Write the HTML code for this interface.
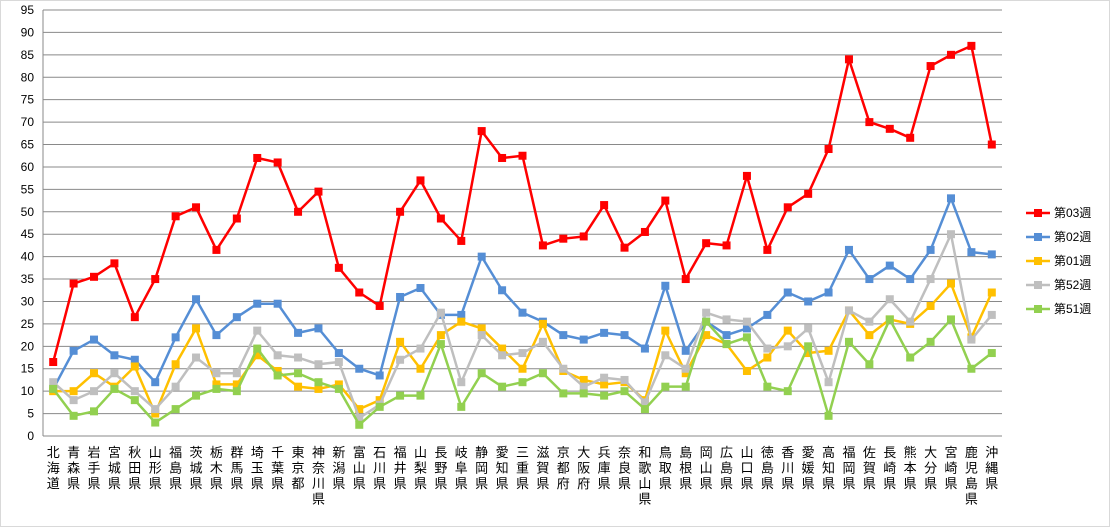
<!DOCTYPE html>
<html><head><meta charset="utf-8"><style>
body{margin:0;background:#fff;width:1110px;height:527px;overflow:hidden}
svg{display:block;font-family:"Liberation Sans","Noto Sans CJK JP",sans-serif}
</style></head><body>
<svg id="chart" width="1110" height="527">
<rect x="0.5" y="0.5" width="1109" height="526" fill="#fff" stroke="#d9d9d9"/>
<g id="grid"></g><g id="yt"></g><g id="xt"></g><g id="series"></g><g id="legend"></g>
</svg>
<script>
const categories=["北海道","青森県","岩手県","宮城県","秋田県","山形県","福島県","茨城県","栃木県","群馬県","埼玉県","千葉県","東京都","神奈川県","新潟県","富山県","石川県","福井県","山梨県","長野県","岐阜県","静岡県","愛知県","三重県","滋賀県","京都府","大阪府","兵庫県","奈良県","和歌山県","鳥取県","島根県","岡山県","広島県","山口県","徳島県","香川県","愛媛県","高知県","福岡県","佐賀県","長崎県","熊本県","大分県","宮崎県","鹿児島県","沖縄県"];
const seriesNames=["第03週","第02週","第01週","第52週","第51週"];
const w03=[16.5,34,35.5,38.5,26.5,35,49,51,41.5,48.5,62,61,50,54.5,37.5,32,29,50,57,48.5,43.5,68,62,62.5,42.5,44,44.5,51.5,42,45.5,52.5,35,43,42.5,58,41.5,51,54,64,84,70,68.5,66.5,82.5,85,87,65];
const w02=[10.5,19,21.5,18,17,12,22,30.5,22.5,26.5,29.5,29.5,23,24,18.5,15,13.5,31,33,27,27,40,32.5,27.5,25.5,22.5,21.5,23,22.5,19.5,33.5,19,25.5,22.5,24,27,32,30,32,41.5,35,38,35,41.5,53,41,40.5];
const w01=[10,10,14,11,15.5,5,16,24,11.5,11.5,18,14.5,11,10.5,11.5,6,8,21,15,22.5,25.5,24,19.5,15,25,14.5,12.5,11.5,12,8,23.5,14,22.5,20.5,14.5,17.5,23.5,18.5,19,28,22.5,26,25,29,34,22,32];
const w52=[12,8,10,14,10,6,11,17.5,14,14,23.5,18,17.5,16,16.5,4,7,17,19.5,27.5,12,22.5,18,18.5,21,15,11,13,12.5,7.5,18,15,27.5,26,25.5,19.5,20,24,12,28,25.5,30.5,25.5,35,45,21.5,27];
const w51=[10.5,4.5,5.5,10.5,8,3,6,9,10.5,10,19.5,13.5,14,12,10.5,2.5,6.5,9,9,20.5,6.5,14,11,12,14,9.5,9.5,9,10,6,11,11,25.5,20.5,22,11,10,20,4.5,21,16,26,17.5,21,26,15,18.5];
const yTicks=[0,5,10,15,20,25,30,35,40,45,50,55,60,65,70,75,80,85,90,95];
const seriesData=[w03,w02,w01,w52,w51];
const colors=["#ff0000","#558ed5","#ffc000","#bfbfbf","#92d050"];
const NS="http://www.w3.org/2000/svg";
const L=43,R=1002,T=10,B=436,yMax=95;
const band=(R-L)/categories.length;
const xs=i=>L+band*(i+0.5);
const ys=v=>B-(v/yMax)*(B-T);
function mk(tag,attrs,parent){const e=document.createElementNS(NS,tag);for(const k in attrs)e.setAttribute(k,attrs[k]);parent.appendChild(e);return e;}
const grid=document.getElementById('grid'),yt=document.getElementById('yt'),xt=document.getElementById('xt'),sg=document.getElementById('series'),lg=document.getElementById('legend');
yTicks.forEach(t=>{
  const ln=mk('line',{x1:L,x2:R,y1:ys(t),y2:ys(t),stroke:'#898989','stroke-width':1},grid);
  
  
  const tx=mk('text',{x:L-9,y:ys(t)+4,'text-anchor':'end','font-size':12,fill:'#000'},yt);
  tx.textContent=t;
  
  
});
const ax=mk('line',{x1:L,x2:L,y1:T,y2:B,stroke:'#898989'},grid);


categories.forEach((c,i)=>{
  const g=mk('text',{'font-size':13,'text-anchor':'middle',fill:'#000'},xt);
  
  
  [...c].forEach((ch,j)=>{const s=mk('tspan',{x:xs(i),y:457+j*15.5},g);s.textContent=ch;});
});
seriesData.forEach((d,si)=>{
  const g=mk('g',{},sg);
  
  
  const pts=d.map((v,i)=>xs(i)+','+ys(v)).join(' ');
  const pl=mk('polyline',{points:pts,fill:'none',stroke:colors[si],'stroke-width':2.5,'stroke-linejoin':'round'},g);
  
  
  d.forEach((v,i)=>{
    const r=mk('rect',{x:xs(i)-4,y:ys(v)-4,width:8,height:8,fill:colors[si]},g);
    
    
  });
  const ly=213+si*24;
  const lgi=mk('g',{},lg);
  
  
  mk('line',{x1:1026,x2:1050,y1:ly,y2:ly,stroke:colors[si],'stroke-width':2.5},lgi);
  mk('rect',{x:1034,y:ly-4,width:8,height:8,fill:colors[si]},lgi);
  const lt=mk('text',{x:1054,y:ly+4,'font-size':12,fill:'#000'},lgi);
  lt.textContent=seriesNames[si];
});
</script>
</body></html>
